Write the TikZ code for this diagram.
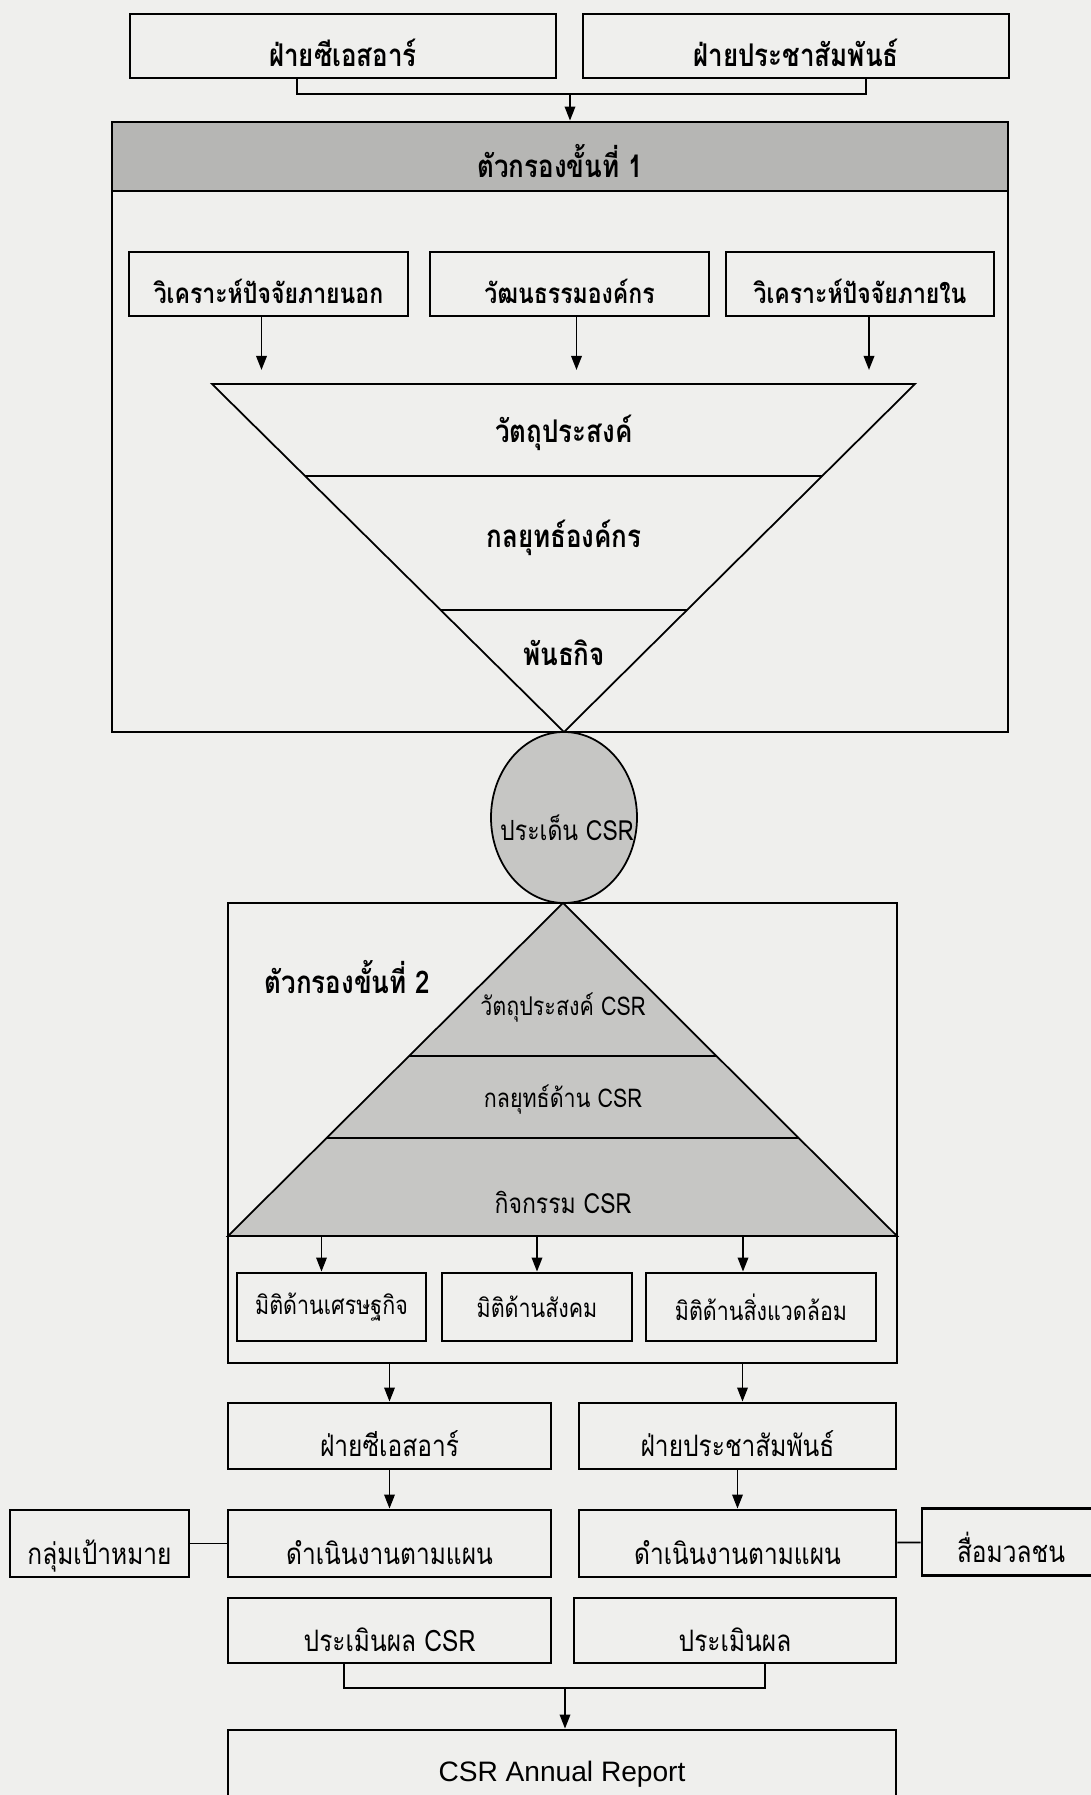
\documentclass[tikz,border=0pt]{standalone}
\usepackage{fontspec}
\setmainfont[Script=Thai,FakeStretch=0.83]{Loma}
\setsansfont{Liberation Sans}
\usepackage{tikz}
\usetikzlibrary{arrows.meta,shapes.geometric,calc}
\tikzset {>={Stealth[length=4pt,width=3pt,inset=0pt]}}
\definecolor{paper}{RGB}{239,239,237}
\definecolor{band}{RGB}{182,182,180}
\definecolor{shade}{RGB}{198,198,196}
\tikzset{
  frame/.style={draw,line width=0.8pt,inner sep=0pt},
  box/.style={frame,align=center,text height=4.2mm,text depth=0pt,font=\fontsize{8.4}{10}\selectfont},
  bbox/.style={frame,align=center,text height=4.2mm,text depth=0pt,font=\bfseries\fontsize{8.9}{10}\selectfont},
  sbox/.style={frame,align=center,font=\fontsize{7.35}{8}\selectfont},
  thin/.style={line width=0.5pt},
  lbl/.style={inner sep=0pt,font=\bfseries\fontsize{8.9}{10}\selectfont},
  plbl/.style={inner sep=0pt,font=\fontsize{7.35}{8}\selectfont}
}

\begin{document}
\begin{tikzpicture}
\fill[paper] (0,0) rectangle (10.91,17.95);
\useasboundingbox (0,0) rectangle (10.91,17.95);

% top
\node[bbox,minimum width=4.26cm,minimum height=0.64cm] (fcsr1) at (3.43,17.49) {ฝ่ายซีเอสอาร์};
\node[bbox,minimum width=4.26cm,minimum height=0.64cm] (fpr1) at (7.96,17.49) {ฝ่ายประชาสัมพันธ์};
\coordinate (j1) at (5.70,17.01);

% filter 1
\node[frame,minimum width=8.96cm,minimum height=6.10cm] (filter1) at (5.60,13.68) {};
\node[bbox,fill=band,minimum width=8.96cm,minimum height=0.69cm,anchor=north] (head1) at (filter1.north) {ตัวกรองขั้นที่ 1};
\draw ([xshift=-4.6mm]fcsr1.south) |- (j1) -| ([xshift=7mm]fpr1.south);
\draw[->,thin] (j1) -- (j1 |- filter1.north);

\node[bbox,font=\bfseries\fontsize{7.9}{9}\selectfont,text height=3.9mm,minimum width=2.79cm,minimum height=0.64cm] (ext) at (2.685,15.11) {วิเคราะห์ปัจจัยภายนอก};
\node[bbox,font=\bfseries\fontsize{7.9}{9}\selectfont,text height=3.9mm,minimum width=2.79cm,minimum height=0.64cm] (cult) at (5.695,15.11) {วัฒนธรรมองค์กร};
\node[bbox,font=\bfseries\fontsize{7.9}{9}\selectfont,text height=3.9mm,minimum width=2.68cm,minimum height=0.64cm] (int) at (8.60,15.11) {วิเคราะห์ปัจจัยภายใน};

\coordinate (fa) at (2.12,14.11);
\coordinate (fb) at (9.15,14.11);
\coordinate (fc) at (5.64,10.63);
\draw[thin] (fa) -- (fb) -- (fc) -- cycle;
\draw[thin] ($(fa)!0.264!(fc)$) -- ($(fb)!0.264!(fc)$);
\draw[thin] ($(fa)!0.649!(fc)$) -- ($(fb)!0.649!(fc)$);
\draw[->,thin,shorten >=1.4mm] ([xshift=-0.7mm]ext.south) -- ([xshift=-0.7mm]ext.south |- fa);
\draw[->,thin,shorten >=1.4mm] ([xshift=0.7mm]cult.south) -- ([xshift=0.7mm]cult.south |- fa);
\draw[->,thin,shorten >=1.4mm] ([xshift=0.9mm]int.south) -- ([xshift=0.9mm]int.south |- fa);

\node[lbl] (obj) at (5.64,13.62) {วัตถุประสงค์};
\node[lbl] (strat) at (5.64,12.57) {กลยุทธ์องค์กร};
\node[lbl] (mis) at (5.64,11.42) {พันธกิจ};

% issue
\node[ellipse,draw,thin,fill=shade,minimum width=1.46cm,minimum height=1.71cm,inner sep=0pt] (issue) at (5.64,9.775) {};
\node[inner sep=0pt,font=\fontsize{7.9}{9}\selectfont] (issuetxt) at (5.67,9.67) {ประเด็น CSR};

% filter 2
\node[frame,minimum width=6.69cm,minimum height=4.60cm] (filter2) at (5.625,6.62) {};
\coordinate (pa) at (5.63,8.92);
\coordinate (pb) at (2.28,5.59);
\coordinate (pc) at (8.97,5.59);
\filldraw[thin,fill=shade] (pa) -- (pb) -- (pc) -- cycle;
\draw[thin] ($(pa)!0.459!(pb)$) -- ($(pa)!0.459!(pc)$);
\draw[thin] ($(pa)!0.706!(pb)$) -- ($(pa)!0.706!(pc)$);
\draw[line width=0.8pt] (pb) -- (pc);

\node[lbl,anchor=west] (title2) at (2.64,8.18) {ตัวกรองขั้นที่ 2};
\node[plbl] (pobj) at (5.63,7.87) {วัตถุประสงค์ CSR};
\node[plbl] (pstrat) at (5.63,6.95) {กลยุทธ์ด้าน CSR};
\node[plbl,font=\fontsize{7.9}{9}\selectfont] (pact) at (5.63,5.93) {กิจกรรม CSR};

\node[sbox,minimum width=1.89cm,minimum height=0.68cm] (econ) at (3.315,4.88) {มิติด้านเศรษฐกิจ};
\node[sbox,minimum width=1.90cm,minimum height=0.68cm] (soc) at (5.37,4.88) {มิติด้านสังคม};
\node[sbox,minimum width=2.30cm,minimum height=0.68cm] (env) at (7.61,4.88) {มิติด้านสิ่งแวดล้อม};
\draw[->,thin] ([xshift=-1mm]econ.north |- pb) -- ([xshift=-1mm]econ.north);
\draw[->,thin] (soc.north |- pb) -- (soc.north);
\draw[->,thin] ([xshift=-1.8mm]env.north |- pb) -- ([xshift=-1.8mm]env.north);

% bottom
\node[box,minimum width=3.23cm,minimum height=0.66cm] (fcsr2) at (3.895,3.59) {ฝ่ายซีเอสอาร์};
\node[box,minimum width=3.17cm,minimum height=0.66cm] (fpr2) at (7.375,3.59) {ฝ่ายประชาสัมพันธ์};
\draw[->,thin] (fcsr2.north |- filter2.south) -- (fcsr2.north);
\draw[->,thin] ([xshift=0.5mm]fpr2.north |- filter2.south) -- ([xshift=0.5mm]fpr2.north);

\node[box,minimum width=3.23cm,minimum height=0.67cm] (do1) at (3.895,2.515) {ดำเนินงานตามแผน};
\node[box,minimum width=3.17cm,minimum height=0.67cm] (do2) at (7.375,2.515) {ดำเนินงานตามแผน};
\node[box,minimum width=1.79cm,minimum height=0.67cm] (target) at (0.995,2.515) {กลุ่มเป้าหมาย};
\node[box,minimum width=1.78cm,minimum height=0.67cm] (media) at (10.11,2.53) {สื่อมวลชน};
\draw[->,thin] (fcsr2) -- (do1);
\draw[->,thin] (fpr2) -- (do2);
\draw[thin] (target) -- (do1);
\draw[thin] (do2) -- (media);

\node[box,minimum width=3.23cm,minimum height=0.65cm] (evalcsr) at (3.895,1.645) {ประเมินผล CSR};
\node[box,minimum width=3.22cm,minimum height=0.65cm] (eval) at (7.35,1.645) {ประเมินผล};
\coordinate (j2) at (5.65,1.07);
\node[box,font=\sffamily\fontsize{8}{9}\selectfont,text height=3.6mm,minimum width=6.68cm,minimum height=0.67cm] (report) at (5.62,0.315) {CSR Annual Report};
\draw[thin] ([xshift=-4.55mm]evalcsr.south) |- (j2) -| ([xshift=3mm]eval.south);
\draw[->,thin] (j2) -- (j2 |- report.north);
\end{tikzpicture}
\end{document}
